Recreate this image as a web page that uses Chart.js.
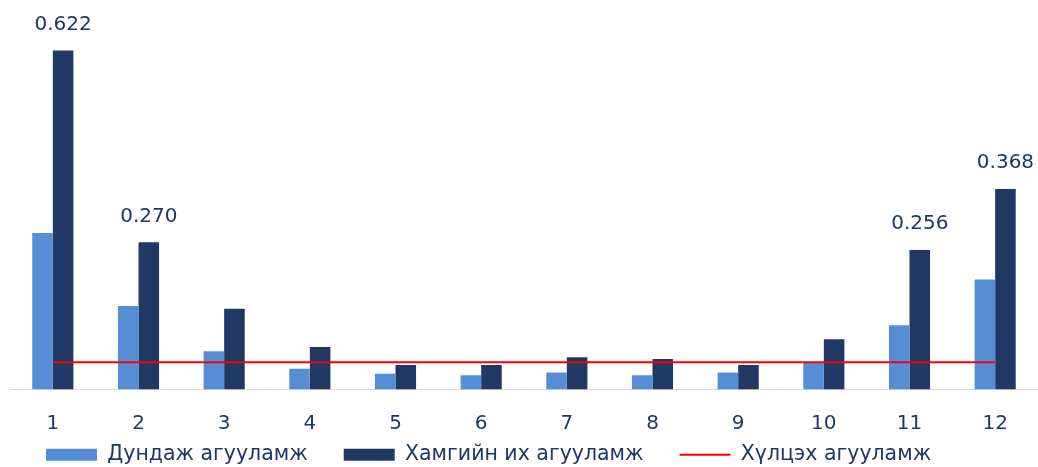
<!DOCTYPE html>
<html>
<head>
<meta charset="utf-8">
<script src="https://cdn.jsdelivr.net/npm/chart.js@4/dist/chart.umd.min.js"></script>
<style>
  html, body { margin: 0; padding: 0; background: #ffffff; }
  #wrap { width: 1038px; height: 467px; position: relative; }
</style>
</head>
<body>
<div id="wrap"><canvas id="chart"></canvas></div>
<script>
// Months of the year
const categories = ['1', '2', '3', '4', '5', '6', '7', '8', '9', '10', '11', '12'];
// Average concentration per month
const avgValues = [0.287, 0.153, 0.070, 0.038, 0.029, 0.026, 0.031, 0.026, 0.031, 0.049, 0.118, 0.202];
// Maximum concentration per month
const maxValues = [0.622, 0.270, 0.148, 0.078, 0.045, 0.045, 0.059, 0.056, 0.045, 0.092, 0.256, 0.368];
// Permissible concentration level
const limitValues = [0.05, 0.05, 0.05, 0.05, 0.05, 0.05, 0.05, 0.05, 0.05, 0.05, 0.05, 0.05];
// Months whose maximum gets a value label
const labelledMonths = [0, 1, 10, 11];

const seriesNames = ['Дундаж агууламж', 'Хамгийн их агууламж', 'Хүлцэх агууламж'];

const NAVY = '#1f3864';
const LIGHT = '#558ed5';
const RED = '#ff0000';
const FONT = 'DejaVu Sans';
const LEGEND_PAD = 36;

// Writes the value above selected bars of the maximum series
const valueLabels = {
  id: 'valueLabels',
  afterDatasetsDraw(chart) {
    const meta = chart.getDatasetMeta(1);
    const ctx = chart.ctx;
    ctx.save();
    ctx.font = '20px "' + FONT + '"';
    ctx.fillStyle = NAVY;
    ctx.textAlign = 'center';
    ctx.textBaseline = 'bottom';
    labelledMonths.forEach(i => {
      const bar = meta.data[i];
      ctx.fillText(maxValues[i].toFixed(3), bar.x, bar.y - 16);
    });
    ctx.restore();
  }
};

// The x axis is kept short so the legend sits close under it;
// let its tick labels draw below the box without being clipped.
const tickRoom = {
  id: 'tickRoom',
  afterLayout(chart) {
    chart.scales.x.bottom = chart.height;
  }
};

new Chart(document.getElementById('chart'), {
  type: 'bar',
  data: {
    labels: categories,
    datasets: [
      { label: seriesNames[0], data: avgValues, backgroundColor: LIGHT, borderWidth: 0, order: 1 },
      { label: seriesNames[1], data: maxValues, backgroundColor: NAVY, borderWidth: 0, order: 1 },
      { type: 'line', label: seriesNames[2], data: limitValues, borderColor: RED, backgroundColor: RED,
        borderWidth: 2, pointRadius: 0, fill: false, order: 0 }
    ]
  },
  options: {
    responsive: true,
    maintainAspectRatio: false,
    animation: false,
    layout: { padding: { left: 10, right: 0, top: 8, bottom: -8 } },
    datasets: {
      bar: { categoryPercentage: 0.48, barPercentage: 1.0 }
    },
    scales: {
      x: {
        grid: { display: false, drawTicks: false },
        border: { display: true, color: '#d9d9d9', width: 1 },
        ticks: { color: NAVY, font: { family: FONT, size: 20 }, padding: 22 },
        afterFit(scale) { scale.height = 19; }
      },
      y: {
        display: false,
        min: 0,
        max: 0.7
      }
    },
    plugins: {
      tooltip: { enabled: false },
      legend: {
        position: 'bottom',
        align: 'start',
        labels: {
          usePointStyle: true,
          pointStyleWidth: 51,
          boxHeight: 12,
          padding: LEGEND_PAD,
          color: NAVY,
          font: { family: FONT, size: 20.5 },
          sort: (a, b) => a.datasetIndex - b.datasetIndex,
          generateLabels(chart) {
            const items = Chart.defaults.plugins.legend.labels.generateLabels(chart);
            items.forEach(it => {
              if (it.datasetIndex === 2) {
                it.pointStyle = 'line';
                it.strokeStyle = RED;
                it.lineWidth = 2;
              } else {
                it.pointStyle = 'rect';
                it.lineWidth = 0;
              }
            });
            return items;
          }
        }
      }
    }
  },
  plugins: [valueLabels, tickRoom]
});
</script>
</body>
</html>
